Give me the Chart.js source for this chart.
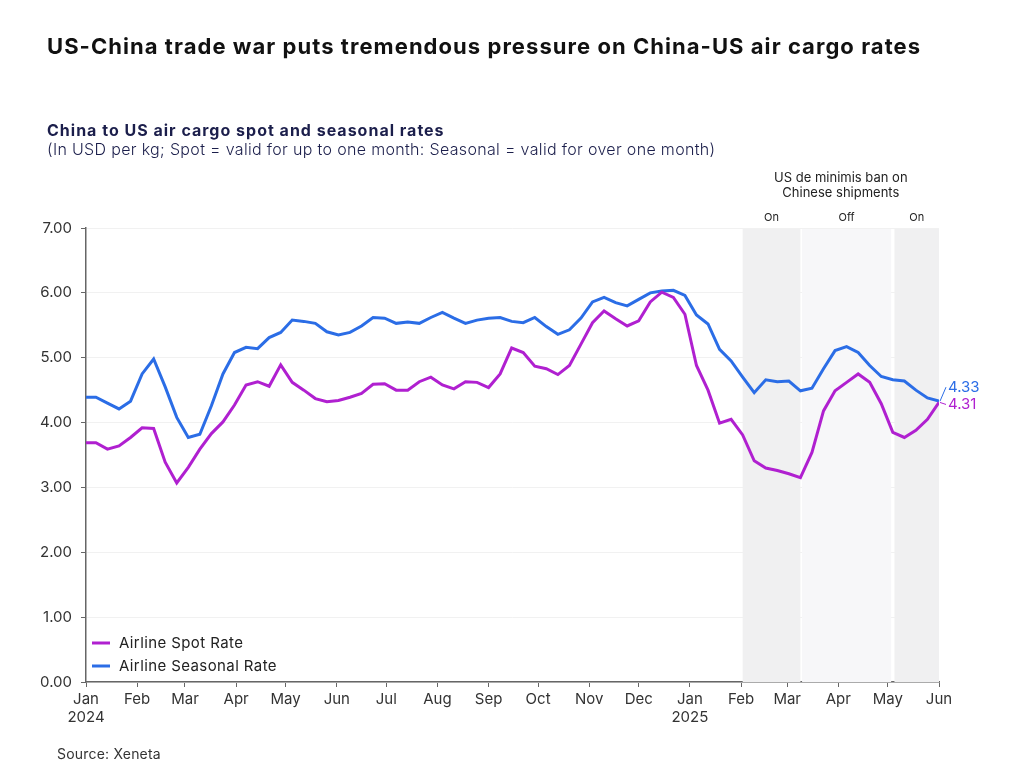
<!DOCTYPE html>
<html>
<head>
<meta charset="utf-8">
<script src="https://cdn.jsdelivr.net/npm/chart.js@4.4.1/dist/chart.umd.min.js"></script>
<style>
  body { margin: 0; background: #fff; font-family: Inter, "Open Sans", sans-serif; }
  #wrap { position: relative; width: 1024px; height: 768px; overflow: hidden; }
  #chart { position: absolute; left: 0; top: 0; }
  .txt { position: absolute; white-space: nowrap; }
  #title { left: 47px; top: 33px; font-size: 22px; font-weight: 700; color: #111; letter-spacing: 1.05px; }
  #sub { left: 47px; top: 120px; font-size: 16px; font-weight: 700; color: #1b1e4b; letter-spacing: 1px; }
  #sub2 { left: 47px; top: 139px; font-size: 16px; font-weight: 300; color: #1b1e4b; letter-spacing: 0.33px; }
  #source { left: 57px; top: 745px; font-size: 14px; color: #333; letter-spacing: 0.2px; }
</style>
</head>
<body>
<div id="wrap">
  <canvas id="chart" width="1024" height="768"></canvas>
  <div class="txt" id="title">US-China trade war puts tremendous pressure on China-US air cargo rates</div>
  <div class="txt" id="sub">China to US air cargo spot and seasonal rates</div>
  <div class="txt" id="sub2">(In USD per kg; Spot = valid for up to one month: Seasonal = valid for over one month)</div>
  <div class="txt" id="source">Source: Xeneta</div>
</div>
<script>
// weekly readings, first one on this date
var firstWeek = '2023-12-31';

var spotRate = [
    3.69, 3.69, 3.59, 3.64, 3.77, 3.92, 3.91, 3.39, 3.07, 3.31,
    3.59, 3.83, 4.01, 4.27, 4.58, 4.63, 4.56, 4.89, 4.62, 4.50,
    4.37, 4.32, 4.34, 4.39, 4.45, 4.59, 4.60, 4.50, 4.50, 4.63,
    4.70, 4.58, 4.52, 4.63, 4.62, 4.54, 4.75, 5.15, 5.08, 4.87,
    4.83, 4.74, 4.88, 5.21, 5.54, 5.72, 5.60, 5.49, 5.57, 5.86,
    6.01, 5.93, 5.67, 4.88, 4.50, 3.99, 4.05, 3.81, 3.41, 3.30,
    3.26, 3.21, 3.15, 3.54, 4.18, 4.49, 4.62, 4.75, 4.62, 4.29,
    3.85, 3.77, 3.88, 4.05, 4.31
];

var seasonalRate = [
    4.39, 4.39, 4.30, 4.21, 4.33, 4.75, 4.98, 4.55, 4.08, 3.77,
    3.82, 4.26, 4.75, 5.08, 5.16, 5.14, 5.31, 5.39, 5.58, 5.56,
    5.53, 5.40, 5.35, 5.39, 5.49, 5.62, 5.61, 5.53, 5.55, 5.53,
    5.62, 5.70, 5.61, 5.53, 5.58, 5.61, 5.62, 5.56, 5.54, 5.62,
    5.48, 5.36, 5.43, 5.61, 5.86, 5.93, 5.85, 5.80, 5.90, 6.00,
    6.03, 6.04, 5.96, 5.66, 5.52, 5.13, 4.95, 4.70, 4.46, 4.66,
    4.63, 4.64, 4.49, 4.53, 4.83, 5.11, 5.17, 5.08, 4.88, 4.71,
    4.66, 4.64, 4.50, 4.38, 4.33
];

var monthStarts = [
    '2024-01-01', '2024-02-01', '2024-03-01', '2024-04-01', '2024-05-01', '2024-06-01',
    '2024-07-01', '2024-08-01', '2024-09-01', '2024-10-01', '2024-11-01', '2024-12-01',
    '2025-01-01', '2025-02-01', '2025-03-01', '2025-04-01', '2025-05-01', '2025-06-01'
];
var monthLabels = [
    ['Jan', '2024'], 'Feb', 'Mar', 'Apr', 'May', 'Jun', 'Jul', 'Aug', 'Sep', 'Oct', 'Nov', 'Dec',
    ['Jan', '2025'], 'Feb', 'Mar', 'Apr', 'May', 'Jun'
];

var banPeriods = [
    ['2025-02-02', '2025-03-09'],
    ['2025-03-10', '2025-05-03'],
    ['2025-05-05', '2025-06-01']
];
var banLabels = ['On', 'Off', 'On'];
var banTitle = ['US de minimis ban on', 'Chinese shipments'];

var seriesNames = ['Airline Spot Rate', 'Airline Seasonal Rate'];
var seriesColors = ['#b020d0', '#2b6de6'];

function dayNum(s) {
    return (Date.parse(s) - Date.parse('2024-01-01')) / 86400000;
}

function toPoints(values) {
    var start = dayNum(firstWeek);
    return values.map(function(v, i) {
        return { x: start + 7 * i, y: v };
    });
}

var FONT = 'Inter, "Open Sans", sans-serif';

// shaded ban periods plus their labels
var bandsPlugin = {
    id: 'bands',
    beforeDatasetsDraw: function(chart) {
        var ctx = chart.ctx;
        var xs = chart.scales.x;
        var area = chart.chartArea;
        ctx.save();
        banPeriods.forEach(function(p, i) {
            var x0 = xs.getPixelForValue(dayNum(p[0]));
            var x1 = xs.getPixelForValue(dayNum(p[1]));
            ctx.fillStyle = banLabels[i] == 'On' ? '#f0f0f1' : '#f7f7f9';
            ctx.fillRect(x0, area.top + 1, x1 - x0, area.bottom - area.top - 1);
            ctx.fillStyle = '#222';
            ctx.font = '11px ' + FONT;
            ctx.textAlign = 'center';
            ctx.textBaseline = 'middle';
            ctx.fillText(banLabels[i], (x0 + x1) / 2, area.top - 10);
        });
        var first = xs.getPixelForValue(dayNum(banPeriods[0][0]));
        var last = xs.getPixelForValue(dayNum(banPeriods[banPeriods.length - 1][1]));
        ctx.font = '13px ' + FONT;
        ctx.fillStyle = '#222';
        ctx.fillText(banTitle[0], (first + last) / 2, area.top - 50);
        ctx.fillText(banTitle[1], (first + last) / 2, area.top - 35);
        ctx.restore();
    }
};

// value labels at the right end + legend inside the plot
var labelsPlugin = {
    id: 'endLabels',
    afterDatasetsDraw: function(chart) {
        var ctx = chart.ctx;
        var area = chart.chartArea;
        var offsets = [2, -14];
        ctx.save();
        chart.data.datasets.forEach(function(ds, i) {
            var meta = chart.getDatasetMeta(i);
            var pt = meta.data[meta.data.length - 1];
            var ly = pt.y + offsets[i];
            ctx.strokeStyle = ds.borderColor;
            ctx.lineWidth = 1;
            ctx.beginPath();
            ctx.moveTo(pt.x + 1, pt.y);
            ctx.lineTo(pt.x + 7, ly);
            ctx.stroke();
            ctx.fillStyle = ds.borderColor;
            ctx.font = '15px ' + FONT;
            ctx.textAlign = 'left';
            ctx.textBaseline = 'middle';
            ctx.fillText(ds.data[ds.data.length - 1].y.toFixed(2), pt.x + 9, ly);

            // legend row
            var y = area.bottom - 39 + i * 23;
            ctx.lineWidth = 3;
            ctx.beginPath();
            ctx.moveTo(area.left + 6, y);
            ctx.lineTo(area.left + 24, y);
            ctx.stroke();
            ctx.fillStyle = '#222';
            ctx.letterSpacing = '0.4px';
            ctx.fillText(ds.label, area.left + 33, y);
            ctx.letterSpacing = '0px';
        });
        ctx.restore();
    }
};

var ctx = document.getElementById('chart').getContext('2d');
var myChart = new Chart(ctx, {
    type: 'line',
    data: {
        datasets: [{
            label: seriesNames[0],
            data: toPoints(spotRate),
            borderColor: seriesColors[0],
            borderWidth: 3,
            pointRadius: 0,
            tension: 0
        }, {
            label: seriesNames[1],
            data: toPoints(seasonalRate),
            borderColor: seriesColors[1],
            borderWidth: 3,
            pointRadius: 0,
            tension: 0
        }]
    },
    options: {
        responsive: false,
        animation: false,
        layout: {
            padding: { left: 0, right: 85, top: 228, bottom: 36 }
        },
        plugins: {
            legend: { display: false },
            tooltip: { enabled: false }
        },
        scales: {
            x: {
                type: 'linear',
                min: 0,
                max: dayNum('2025-06-01'),
                afterBuildTicks: function(scale) {
                    scale.ticks = monthStarts.map(function(d) { return { value: dayNum(d) }; });
                },
                afterFit: function(scale) { scale.height = 50; },
                ticks: {
                    autoSkip: false,
                    maxRotation: 0,
                    padding: 3,
                    color: '#333',
                    font: { size: 15, family: FONT },
                    callback: function(v, i) { return monthLabels[i]; }
                },
                grid: {
                    drawOnChartArea: false,
                    drawTicks: true,
                    tickLength: 5,
                    color: '#666'
                },
                border: { display: true, color: '#666', width: 1.5 }
            },
            y: {
                min: 0,
                max: 7,
                afterFit: function(scale) { scale.width = 86; },
                ticks: {
                    stepSize: 1,
                    padding: 9,
                    color: '#333',
                    font: { size: 15, family: FONT },
                    callback: function(v) { return v.toFixed(2); }
                },
                grid: {
                    color: '#f1f1f1',
                    tickColor: '#666',
                    tickLength: 5
                },
                border: { display: true, color: '#666', width: 1.5 }
            }
        }
    },
    plugins: [bandsPlugin, labelsPlugin]
});
</script>
</body>
</html>
